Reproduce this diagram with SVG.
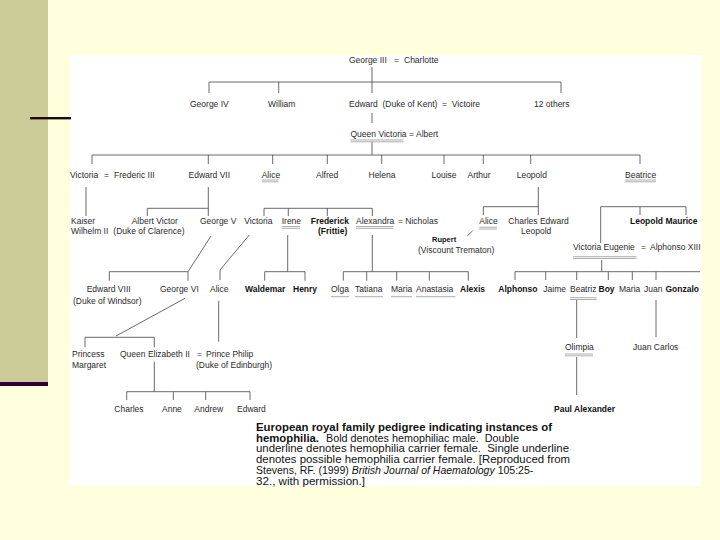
<svg xmlns="http://www.w3.org/2000/svg" width="720" height="540" viewBox="0 0 720 540">
<defs>
<style>
.t{font-family:"Liberation Sans",Arial,sans-serif;font-size:8.5px;fill:#2a2a2a}
.b{font-weight:bold;fill:#111}
.c{font-family:"Liberation Sans",Arial,sans-serif;font-size:10.5px;fill:#111}
.cb{font-weight:bold}
.ci{font-style:italic}
.ln{stroke:#444;stroke-width:0.8;fill:none}
.ul{stroke:#777;stroke-width:0.6;fill:none}
</style>
<clipPath id="panel"><rect x="70" y="55" width="632" height="431"/></clipPath>
</defs>
<rect width="720" height="540" fill="#FFFFDE"/>
<rect x="0" y="0" width="48" height="382" fill="#CCCC99"/>
<rect x="0" y="382" width="48" height="4" fill="#330033"/>
<rect x="70" y="55" width="632" height="431" fill="#FFFFFF"/>
<rect x="30" y="117" width="41" height="2.4" fill="#1E0A0A"/>

<g id="connectors" class="ln" clip-path="url(#panel)">
<path d="M372 67V93M209 82H561M209 82V93M278.7 82V93M561 82V93"/>
<path d="M372 113V123"/>
<path d="M372 142V155M92 155H640M92 155V164M208.3 155V164M272.7 155V164M327.3 155V164M381.7 155V164M444 155V164M483.3 155V164M530.7 155V164M640 155V164"/>
<path d="M86 187V216"/>
<path d="M208.3 187V216M147.3 208.3H208.3M147.3 208.3V216"/>
<path d="M264 208.3H372.3M264 208.3V216M288.3 208.3V216M327.3 208.3V216M372.3 208.3V216"/>
<path d="M538.3 187V215M483.3 206.7H538.3M483.3 206.7V215"/>
<path d="M600.7 206.7H686M600.7 206.7V243M640 206.7V215M686 206.7V215"/>
<path d="M472.7 230.7L467.3 236"/>
<path d="M211 236L188 271.7M109.3 271.7H188M109.3 271.7V280.7M188 271.7V280.7"/>
<path d="M249.3 235L220 270V280"/>
<path d="M287.7 235V271.7M264.7 271.7H305M264.7 271.7V280.7M305 271.7V280.7"/>
<path d="M372.3 235V271.7M343.3 271.7H468.3M343.3 271.7V280.7M366.7 271.7V280.7M396.7 271.7V280.7M429.3 271.7V280.7M468.3 271.7V280.7"/>
<path d="M601.7 260V271.7M515 271.7H700M515 271.7V280M545.7 271.7V280M576.7 271.7V280M608.3 271.7V280M632.3 271.7V280M656 271.7V280"/>
<path d="M576.7 300V338M576.7 357V395"/>
<path d="M656 300V337"/>
<path d="M185 298.3L116 336M85 337.3H154.3M85 337.3V347.3M154.3 337.3V347.3"/>
<path d="M218.7 300.7V341.7"/>
<path d="M154.3 361.7V391.7M126.7 391.7H250M126.7 391.7V400M173.3 391.7V400M205.7 391.7V400M250 391.7V400"/>
</g>

<g id="underlines" class="ul">
<path d="M350.5 140H403.5M350.5 141.8H403.5"/>
<path d="M261.7 180H278.5M261.7 181.8H278.5"/>
<path d="M625 180H656M625 181.8H656"/>
<path d="M281.7 226.5H300M281.7 228.3H300"/>
<path d="M356 226.5H393.5M356 228.3H393.5"/>
<path d="M479.3 227.3H497M479.3 229.1H497"/>
<path d="M573 256.7H636.5M573 258.5H636.5"/>
<path d="M331 296.7H349M355 296.7H383M391 296.7H412M416 296.7H455.5"/>
<path d="M570 297.7H596.7M570 299.5H596.7"/>
<path d="M565 354H593M565 355.8H593"/>
</g>

<g id="nodes" clip-path="url(#panel)">
<g id="george3"><text class="t" x="349" y="63">George III</text><text class="t" x="394" y="63">=</text><text class="t" x="404" y="63">Charlotte</text></g>
<g id="george4"><text class="t" x="190" y="107">George IV</text></g>
<g id="william"><text class="t" x="268" y="107">William</text></g>
<g id="edward-kent"><text class="t" x="349" y="107" xml:space="preserve">Edward  (Duke of Kent)  =  Victoire</text></g>
<g id="others"><text class="t" x="534" y="107">12 others</text></g>
<g id="queen-victoria"><text class="t" x="350.5" y="137">Queen Victoria</text><text class="t" x="409" y="137">=</text><text class="t" x="416" y="137">Albert</text></g>

<g id="victoria-r3"><text class="t" x="70" y="177.5">Victoria</text><text class="t" x="104" y="177.5">=</text><text class="t" x="114" y="177.5">Frederic III</text></g>
<g id="edward7"><text class="t" x="188.5" y="177.5">Edward VII</text></g>
<g id="alice-r3"><text class="t" x="261.7" y="177.5">Alice</text></g>
<g id="alfred"><text class="t" x="316" y="177.5">Alfred</text></g>
<g id="helena"><text class="t" x="368.5" y="177.5">Helena</text></g>
<g id="louise"><text class="t" x="431.5" y="177.5">Louise</text></g>
<g id="arthur"><text class="t" x="467.5" y="177.5">Arthur</text></g>
<g id="leopold-r3"><text class="t" x="516.7" y="177.5">Leopold</text></g>
<g id="beatrice"><text class="t" x="625" y="177.5">Beatrice</text></g>

<g id="kaiser"><text class="t" x="71" y="224">Kaiser</text><text class="t" x="71" y="234">Wilhelm II</text></g>
<g id="albert-victor"><text class="t" x="131.7" y="224">Albert Victor</text><text class="t" x="113.3" y="234">(Duke of Clarence)</text></g>
<g id="george5"><text class="t" x="200" y="224">George V</text></g>
<g id="victoria-r4"><text class="t" x="244.3" y="224">Victoria</text></g>
<g id="irene"><text class="t" x="281.7" y="224">Irene</text></g>
<g id="frederick"><text class="t b" x="310.7" y="224">Frederick</text><text class="t b" x="318" y="234">(Frittie)</text></g>
<g id="alexandra"><text class="t" x="356" y="224">Alexandra</text><text class="t" x="398" y="224">= Nicholas</text></g>
<g id="alice-r4"><text class="t" x="479.3" y="224">Alice</text></g>
<g id="rupert"><text class="t b" x="432" y="242" style="font-size:7.5px">Rupert</text><text class="t" x="418" y="253">(Viscount Trematon)</text></g>
<g id="charles-edward"><text class="t" x="508.3" y="224">Charles Edward</text><text class="t" x="521" y="234">Leopold</text></g>
<g id="leopold-maurice"><text class="t b" x="630" y="224">Leopold  Maurice</text></g>
<g id="victoria-eugenie"><text class="t" x="573" y="250">Victoria Eugenie</text><text class="t" x="641" y="250">=</text><text class="t" x="650" y="250">Alphonso XIII</text></g>

<g id="edward8"><text class="t" x="86.7" y="292.3">Edward VIII</text><text class="t" x="73" y="304">(Duke of Windsor)</text></g>
<g id="george6"><text class="t" x="160" y="292.3">George VI</text></g>
<g id="alice-r5"><text class="t" x="210" y="292.3">Alice</text></g>
<g id="waldemar"><text class="t b" x="245" y="292.3">Waldemar</text></g>
<g id="henry"><text class="t b" x="293" y="292.3">Henry</text></g>
<g id="olga"><text class="t" x="331" y="292.3">Olga</text></g>
<g id="tatiana"><text class="t" x="355" y="292.3">Tatiana</text></g>
<g id="maria-r"><text class="t" x="391" y="292.3">Maria</text></g>
<g id="anastasia"><text class="t" x="416" y="292.3">Anastasia</text></g>
<g id="alexis"><text class="t b" x="460" y="292.3">Alexis</text></g>
<g id="alphonso"><text class="t b" x="498.3" y="292.3">Alphonso</text></g>
<g id="jaime"><text class="t" x="543.3" y="292.3">Jaime</text></g>
<g id="beatriz"><text class="t" x="570" y="292.3">Beatriz</text></g>
<g id="boy"><text class="t b" x="598.5" y="292.3">Boy</text></g>
<g id="maria-s"><text class="t" x="619" y="292.3">Maria</text></g>
<g id="juan"><text class="t" x="644" y="292.3">Juan</text></g>
<g id="gonzalo"><text class="t b" x="665.5" y="292.3">Gonzalo</text></g>

<g id="margaret"><text class="t" x="72" y="356.7">Princess</text><text class="t" x="72" y="367.7">Margaret</text></g>
<g id="elizabeth2"><text class="t" x="120" y="356.7">Queen Elizabeth II</text><text class="t" x="197" y="356.7">=</text><text class="t" x="206" y="356.7">Prince Philip</text><text class="t" x="196" y="367.7">(Duke of Edinburgh)</text></g>
<g id="olimpia"><text class="t" x="565" y="350">Olimpia</text></g>
<g id="juan-carlos"><text class="t" x="633" y="350">Juan Carlos</text></g>

<g id="charles"><text class="t" x="114.3" y="411.7">Charles</text></g>
<g id="anne"><text class="t" x="162" y="411.7">Anne</text></g>
<g id="andrew"><text class="t" x="194.3" y="411.7">Andrew</text></g>
<g id="edward"><text class="t" x="237" y="411.7">Edward</text></g>
<g id="paul"><text class="t b" x="554" y="411.7">Paul Alexander</text></g>
</g>

<g id="caption">
<text class="c cb" x="256" y="430.7" textLength="296" lengthAdjust="spacingAndGlyphs">European royal family pedigree indicating instances of</text>
<text class="c cb" x="256" y="441.5" textLength="63" lengthAdjust="spacingAndGlyphs">hemophilia.</text>
<text class="c" x="326" y="441.5" textLength="193" lengthAdjust="spacingAndGlyphs" xml:space="preserve">Bold denotes hemophiliac male.  Double</text>
<text class="c" x="256" y="452.3" textLength="313" lengthAdjust="spacingAndGlyphs" xml:space="preserve">underline denotes hemophilia carrier female.  Single underline</text>
<text class="c" x="256" y="463.1" textLength="314" lengthAdjust="spacingAndGlyphs">denotes possible hemophilia carrier female. [Reproduced from</text>
<text class="c" x="256" y="473.9">Stevens, RF. (1999) <tspan class="ci">British Journal of Haematology</tspan> 105:25-</text>
<text class="c" x="256" y="484.7" textLength="109" lengthAdjust="spacingAndGlyphs">32., with permission.]</text>
</g>
</svg>
